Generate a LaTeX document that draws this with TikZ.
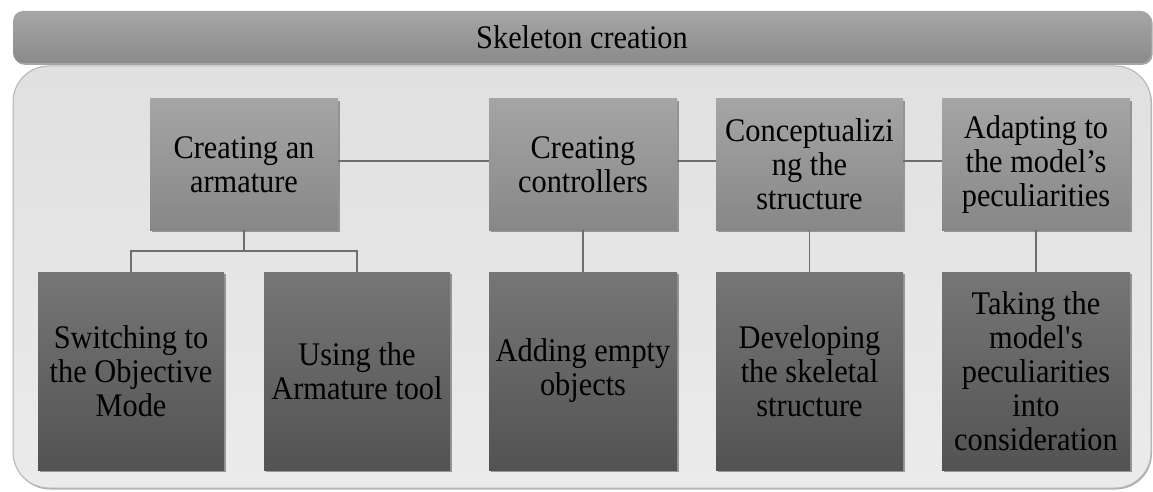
\documentclass[tikz,border=0pt]{standalone}
\usepackage{fontspec}
\setmainfont{Liberation Serif}[FakeStretch=0.92]
\usetikzlibrary{shadows}

\definecolor{barTop}{HTML}{A6A6A6}
\definecolor{barBot}{HTML}{8A8A8A}
\definecolor{panelTop}{HTML}{E0E0E0}
\definecolor{panelBot}{HTML}{EBEBEB}
\definecolor{panelEdge}{HTML}{B4B4B4}
\definecolor{upTop}{HTML}{A5A5A5}
\definecolor{upBot}{HTML}{878787}
\definecolor{lowTop}{HTML}{767676}
\definecolor{lowBot}{HTML}{535353}
\definecolor{linkGray}{HTML}{6E6E6E}

\tikzset{
  boxtext/.style={font=\rmfamily\fontsize{33}{34}\selectfont, align=center, inner sep=0pt, text=black},
  boxshadow/.style={drop shadow={shadow xshift=1.5pt, shadow yshift=-1.8pt, opacity=0.35, fill=black}},
  upperbox/.style={boxtext, boxshadow, top color=upTop, bottom color=upBot, minimum height=131pt},
  lowerbox/.style={boxtext, boxshadow, top color=lowTop, bottom color=lowBot, minimum height=198pt},
  link/.style={draw=linkGray, line width=1.3pt}
}

\begin{document}
\begin{tikzpicture}[x=1pt, y=-1pt]
\useasboundingbox (0,0) rectangle (1153,492);
\fill[white] (0,0) rectangle (1153,492);

% background panel
\draw[panelEdge, line width=1pt, top color=panelTop, bottom color=panelBot, rounded corners=36pt,
      drop shadow={shadow xshift=1pt, shadow yshift=-1.5pt, opacity=0.3, fill=black}]
  (13,66) rectangle (1151,488);

% title bar
\node[boxtext, boxshadow, top color=barTop, bottom color=barBot, rounded corners=10pt,
      minimum width=1138pt, minimum height=52pt] (title) at (582,37) {Skeleton creation};

% upper row
\node[upperbox, minimum width=188pt] (arm)  at (244,164.5)   {Creating an\\armature};
\node[upperbox, minimum width=188pt] (ctrl) at (583,164.5)   {Creating\\controllers};
\node[upperbox, minimum width=187pt] (conc) at (809.5,164.5) {Conceptualizi\\ng the\\structure};
\node[upperbox, minimum width=188pt] (adap) at (1036,164.5)  {Adapting to\\the model’s\\peculiarities};

% lower row
\node[lowerbox, minimum width=186pt] (swit) at (131,371)   {Switching to\\the Objective\\Mode};
\node[lowerbox, minimum width=186pt] (tool) at (357,371)   {Using the\\Armature tool};
\node[lowerbox, minimum width=188pt] (empt) at (583,371)   {Adding empty\\objects};
\node[lowerbox, minimum width=187pt] (skel) at (809.5,371) {Developing\\the skeletal\\structure};
\node[lowerbox, minimum width=188pt] (take) at (1036,371)  {Taking the\\model\textquotesingle s\\peculiarities\\into\\consideration};

% horizontal links along the upper row
\draw[link] ([yshift=3.5pt]arm.east)  -- ([yshift=3.5pt]ctrl.west);
\draw[link] ([yshift=3.5pt]ctrl.east) -- ([yshift=3.5pt]conc.west);
\draw[link] ([yshift=3.5pt]conc.east) -- ([yshift=3.5pt]adap.west);

% branching link under the armature box
\coordinate (split) at (244,251);
\draw[link] (arm.south) -- (split);
\draw[link] (swit.north) |- (split) -| (tool.north);

% vertical links
\draw[link] (ctrl.south) -- (empt.north);
\draw[link] (conc.south) -- (skel.north);
\draw[link] (adap.south) -- (take.north);
\end{tikzpicture}
\end{document}
